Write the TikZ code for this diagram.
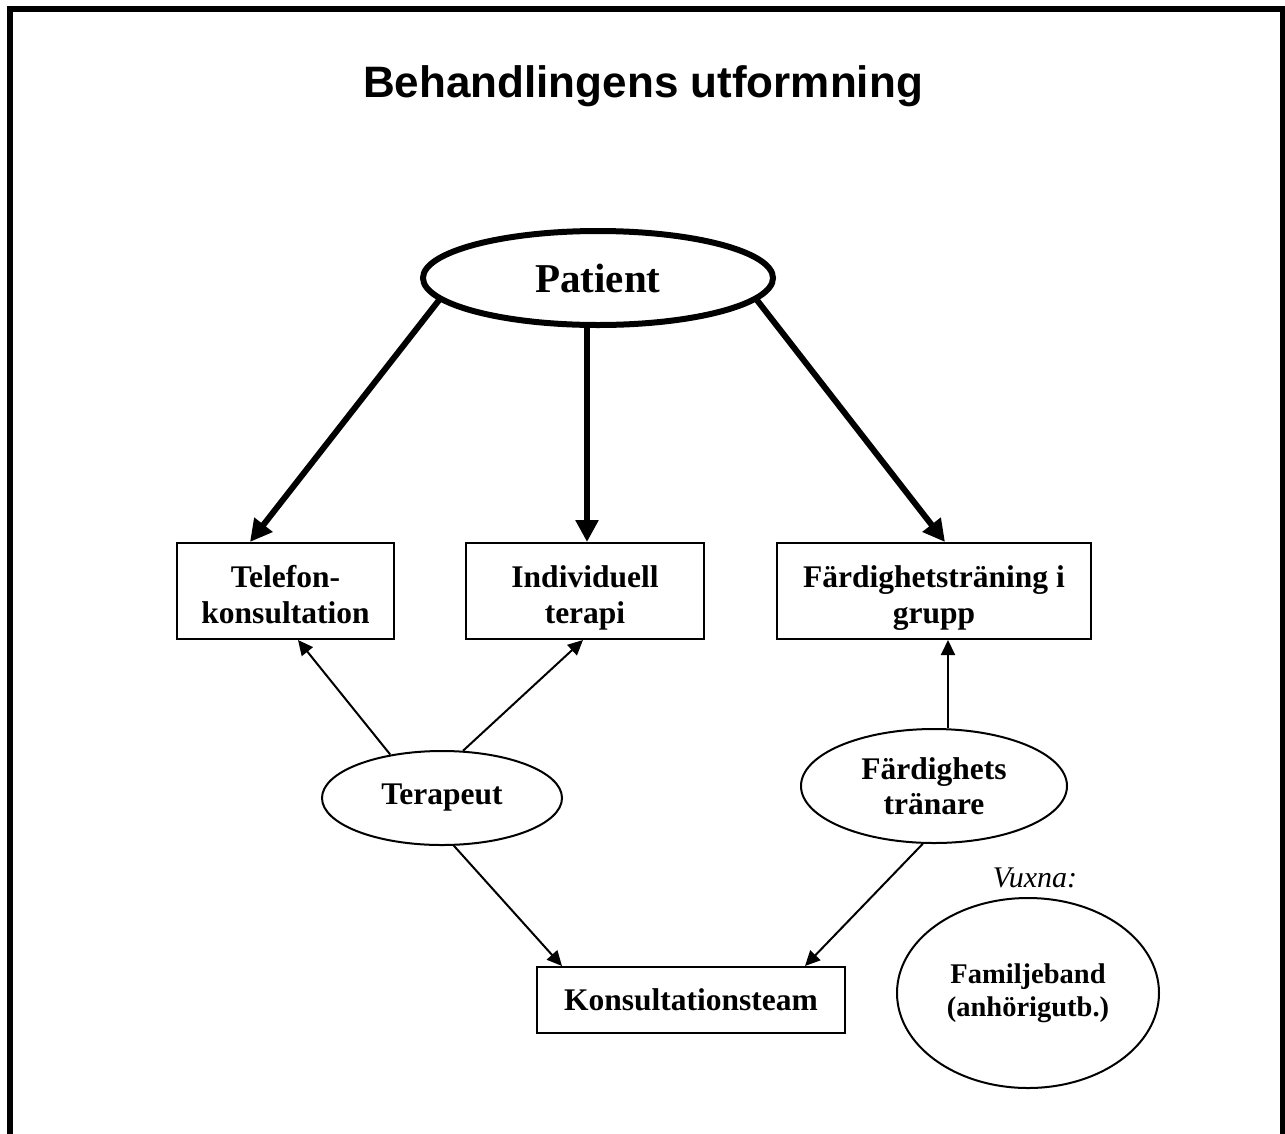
\documentclass[tikz,border=0pt]{standalone}
\usepackage{fontspec}
\setmainfont{Liberation Serif}
\newfontfamily\titlefont{Liberation Sans}
\usetikzlibrary{shapes.geometric,arrows.meta}
\newcommand\topstrut{\rule{0pt}{36pt}}
\newcommand\botstrut{\rule[-8pt]{0pt}{8pt}}
\begin{document}
\begin{tikzpicture}[x=1pt,y=-1pt,
 box/.style={draw,line width=2pt,rectangle,inner sep=0pt,align=center,font=\fontsize{31.5}{36}\selectfont\bfseries},
 oval/.style={draw,line width=2pt,ellipse,inner sep=0pt,align=center,font=\fontsize{31.5}{35}\selectfont\bfseries},
 bigarrow/.style={line width=6pt,-{Triangle[length=22pt,width=22pt]}},
 smallarrow/.style={line width=2pt,-{Triangle[length=15pt,width=14pt]}}]
\useasboundingbox (0,0) rectangle (1285,1133);
\draw[line width=6pt,line join=miter] (10,1140) -- (10,9) -- (1283,9) -- (1283,1140);

\node[font=\titlefont\fontsize{44}{50}\selectfont\bfseries, anchor=base] (title) at (643,97) {Behandlingens utformning};
\node[oval, line width=6pt, minimum width=350pt, minimum height=94pt, font=\fontsize{41}{45}\selectfont\bfseries] (pat) at (598,278) {Patient};
\node[box, minimum width=217pt, minimum height=96pt] (tel) at (285.5,591) {\topstrut Telefon-\\konsultation\botstrut};
\node[box, minimum width=238pt, minimum height=96pt] (ind) at (585,591) {\topstrut Individuell\\terapi\botstrut};
\node[box, minimum width=314pt, minimum height=96pt] (fg) at (934,591) {\topstrut Färdighetsträning i\\grupp\botstrut};
\node[oval, minimum width=240pt, minimum height=94pt] (ter) at (442,798) {Terapeut};
\node[oval, minimum width=266pt, minimum height=114pt] (fard) at (934,786) {Färdighets\\tränare};
\node[box, minimum width=308pt, minimum height=66pt] (kons) at (691,1000) {Konsultationsteam};
\node[font=\fontsize{30}{34}\selectfont\itshape, anchor=base] (vux) at (1035,887) {Vuxna:};
\node[oval, minimum width=262pt, minimum height=190pt, font=\fontsize{28.5}{33}\selectfont\bfseries] (fam) at (1028,993) {Familjeband\\(anhörigutb.)};

\draw[bigarrow] (pat.188.7) -- ([xshift=-35.5pt]tel.north);
\draw[bigarrow] ([xshift=-11pt]pat.south) -- ([xshift=-11pt]pat.south |- ind.north);
\draw[bigarrow] (pat.-8.7) -- ([xshift=11pt]fg.north);

\draw[smallarrow] (ter.140) -- ([xshift=12.5pt]tel.south);
\draw[smallarrow] (ter.66) -- ([xshift=-2pt]ind.south);
\draw[smallarrow] (ter.-76) -- ([xshift=-129pt]kons.north);
\draw[smallarrow] (fard.259) -- ([xshift=114pt]kons.north);
\draw[smallarrow] ([xshift=14pt]fard.north) -- ([xshift=14pt]fg.south);
\end{tikzpicture}
\end{document}
